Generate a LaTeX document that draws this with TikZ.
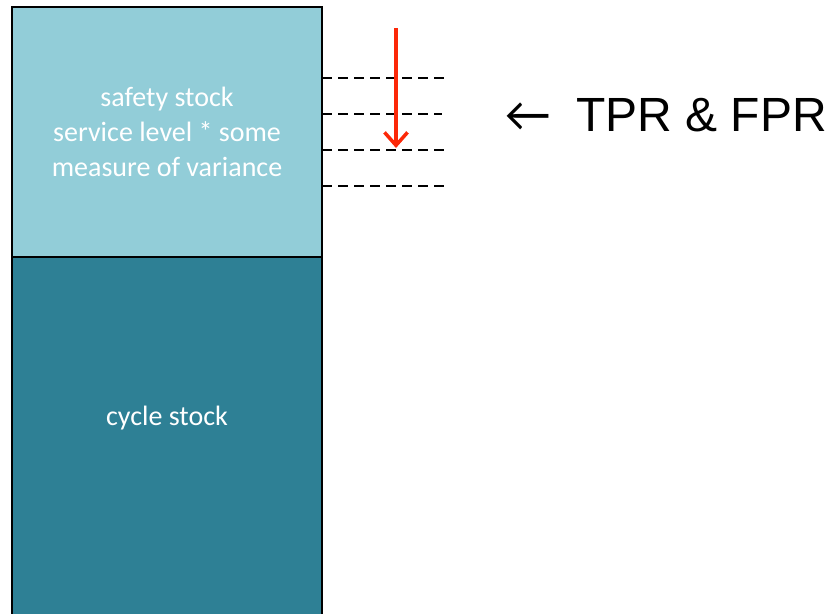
\documentclass[tikz,border=0pt]{standalone}
\usepackage{fontspec}
\setmainfont{Carlito}
\newfontfamily\arialfont{Liberation Sans}
\usetikzlibrary{arrows.meta}
\definecolor{safetyblue}{RGB}{146,205,216}
\definecolor{cycleteal}{RGB}{46,128,149}
\definecolor{markred}{RGB}{252,40,8}
\begin{document}
\begin{tikzpicture}[x=1pt,y=-1pt,
  stockbox/.style={draw=black, line width=2.5pt, minimum width=310pt, inner sep=0pt, outer sep=0pt},
  stocktext/.style={text=white, align=center, font=\fontsize{28}{35}\selectfont},
  level/.style={dash pattern=on 10pt off 6pt, line width=2pt},
  movearrow/.style={markred, line width=3.5pt, -{Straight Barb[length=13pt, width=23pt]}},
  annot/.style={font=\arialfont\fontsize{48}{58}\selectfont, inner sep=0pt}]
\useasboundingbox (0,0) rectangle (834,613);
\clip (0,0) rectangle (834,613);
% stacked inventory blocks
\node[stockbox, fill=safetyblue, minimum height=250pt, anchor=north west] (safety) at (12,7) {};
\node[stockbox, fill=cycleteal, minimum height=380pt, anchor=north west] (cycle) at (12,257) {};
\node[stocktext] (safetylabel) at (167,132) {safety stock\\service level * some\\measure of variance};
\node[stocktext] (cyclelabel) at (167,418) {cycle stock};
% candidate levels for the safety stock
\coordinate (d1) at (450,78);
\coordinate (d2) at (442,114);
\coordinate (d3) at (444,150);
\coordinate (d4) at (446,186);
\foreach \d in {d1,d2,d3,d4}
  \draw[level] (safety.east |- \d) -- (\d);
% threshold moving down
\coordinate (movefrom) at (396,28);
\coordinate (moveto) at (396,148);
\draw[movearrow] (movefrom) -- (moveto);
% annotation
\node[annot, font=\fontsize{50}{58}\selectfont, anchor=base west] (larrow) at (505,131) {←};
\node[annot, anchor=base west] (tpr) at (576,131) {TPR \& FPR};
\end{tikzpicture}
\end{document}
